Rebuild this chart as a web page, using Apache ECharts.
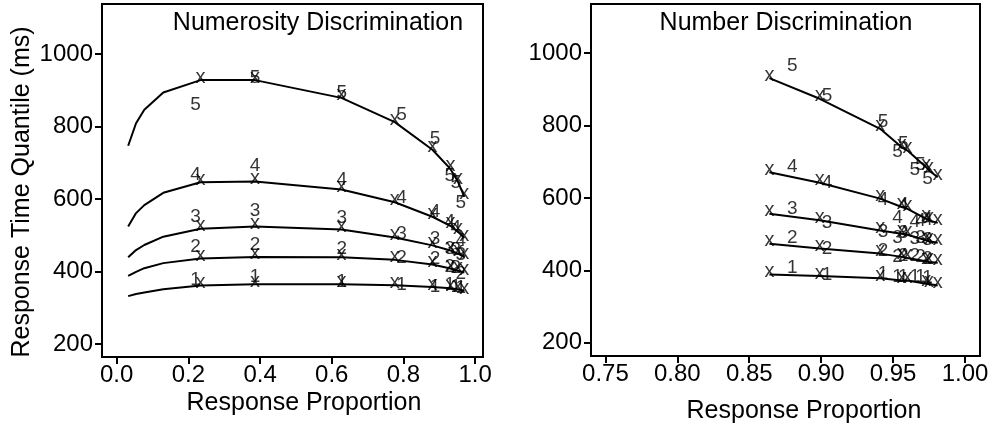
<!DOCTYPE html>
<html>
<head>
<meta charset="utf-8">
<script src="https://cdn.jsdelivr.net/npm/echarts@6/dist/echarts.min.js"></script>
<style>
  html, body { margin: 0; padding: 0; background: #fff; }
  #chart { width: 1000px; height: 425px; }
</style>
</head>
<body>
<div id="chart"></div>
<script>
// ---------- Data ----------
const yTicks = [200, 400, 600, 800, 1000];
const leftXTicks = [0.0, 0.2, 0.4, 0.6, 0.8, 1.0];
const rightXTicks = [0.75, 0.80, 0.85, 0.90, 0.95, 1.00];
const quantileLabels = ['1', '2', '3', '4', '5'];

// Left panel: Numerosity Discrimination
const leftLeadP = [0.032, 0.054, 0.077, 0.130];
const leftLeadQ1 = [332, 338, 342, 351];
const leftLeadQ2 = [388, 399, 409, 423];
const leftLeadQ3 = [439, 459, 473, 496];
const leftLeadQ4 = [524, 561, 583, 617];
const leftLeadQ5 = [747, 809, 846, 894];

const leftModelP = [0.234, 0.386, 0.627, 0.776, 0.881, 0.931, 0.952, 0.970];
const leftModelQ1 = [361, 365, 365, 362, 357, 354, 351, 346];
const leftModelQ2 = [436, 440, 439, 432, 419, 408, 402, 397];
const leftModelQ3 = [518, 524, 516, 494, 472, 458, 449, 440];
const leftModelQ4 = [646, 648, 626, 591, 551, 526, 510, 492];
const leftModelQ5 = [928, 928, 879, 812, 736, 683, 648, 606];

const leftDataP = [0.220, 0.386, 0.628, 0.795, 0.888, 0.929, 0.946, 0.960];
const leftDataQ1 = [377, 386, 372, 363, 358, 363, 358, 356];
const leftDataQ2 = [468, 473, 464, 439, 436, 413, 409, 395];
const leftDataQ3 = [551, 568, 547, 505, 490, 464, 459, 445];
const leftDataQ4 = [666, 691, 652, 602, 565, 537, 520, 484];
const leftDataQ5 = [859, 934, 892, 832, 767, 663, 644, 589];

// Right panel: Number Discrimination
const rightModelP = [0.864, 0.899, 0.941, 0.956, 0.960, 0.973, 0.975, 0.981];
const rightModelQ1 = [388, 384, 378, 372, 372, 363, 362, 358];
const rightModelQ2 = [473, 460, 446, 437, 434, 425, 423, 421];
const rightModelQ3 = [556, 538, 510, 501, 498, 483, 480, 476];
const rightModelQ4 = [671, 642, 598, 575, 570, 542, 538, 531];
const rightModelQ5 = [931, 874, 791, 740, 731, 685, 676, 657];

const rightDataP = [0.880, 0.904, 0.943, 0.957, 0.953, 0.965, 0.969, 0.974];
const rightDataQ1 = [408, 387, 390, 381, 383, 383, 381, 378];
const rightDataQ2 = [489, 459, 454, 440, 438, 440, 436, 433];
const rightDataQ3 = [569, 530, 507, 504, 489, 486, 489, 484];
const rightDataQ4 = [687, 641, 594, 580, 544, 535, 537, 539];
const rightDataQ5 = [965, 882, 811, 751, 728, 679, 691, 654];

// ---------- Chart ----------
const FONT = '"Liberation Sans", Arial, sans-serif';

function panelSeries(idx, leadP, leadQs, modelP, modelQs, dataP, dataQs) {
  const out = [];
  for (let q = 0; q < 5; q++) {
    const lineData = [];
    leadP.forEach((p, i) => lineData.push([p, leadQs[q][i]]));
    modelP.forEach((p, i) => lineData.push([p, modelQs[q][i]]));
    out.push({
      type: 'line', xAxisIndex: idx, yAxisIndex: idx, data: lineData,
      symbol: 'none', silent: true, animation: false,
      lineStyle: { color: '#000', width: 2 }
    });
    out.push({
      type: 'scatter', xAxisIndex: idx, yAxisIndex: idx,
      data: modelP.map((p, i) => [p, modelQs[q][i]]),
      symbolSize: 1, itemStyle: { color: 'rgba(0,0,0,0)' }, animation: false, silent: true,
      label: { show: true, formatter: 'x', position: 'inside', offset: [0, -3],
               color: '#000', fontSize: 20, fontFamily: FONT }
    });
    out.push({
      type: 'scatter', xAxisIndex: idx, yAxisIndex: idx,
      data: dataP.map((p, i) => [p, dataQs[q][i]]),
      symbolSize: 1, itemStyle: { color: 'rgba(0,0,0,0)' }, animation: false, silent: true,
      label: { show: true, formatter: quantileLabels[q], position: 'inside',
               color: '#000', fontSize: 19, fontFamily: FONT }
    });
  }
  return out;
}

function xAxisCfg(idx, min, max, ticks, dec) {
  return {
    type: 'value', gridIndex: idx, min: min, max: max,
    axisLine: { show: true, onZero: false, lineStyle: { color: '#000', width: 2 } },
    axisTick: { show: true, customValues: ticks, length: 7, inside: false,
                lineStyle: { color: '#000', width: 2 } },
    axisLabel: { show: true, customValues: ticks, margin: 6, color: '#000', fontSize: 24,
                 fontFamily: FONT, formatter: v => v.toFixed(dec) },
    splitLine: { show: false }
  };
}
function yAxisCfg(idx, min, max) {
  return {
    type: 'value', gridIndex: idx, min: min, max: max,
    axisLine: { show: true, onZero: false, lineStyle: { color: '#000', width: 2 } },
    axisTick: { show: true, customValues: yTicks, length: 7, inside: false,
                lineStyle: { color: '#000', width: 2 } },
    axisLabel: { show: true, customValues: yTicks, margin: 9, color: '#000', fontSize: 24,
                 fontFamily: FONT, formatter: v => String(Math.round(v)) },
    splitLine: { show: false }
  };
}

const chart = echarts.init(document.getElementById('chart'), null, { renderer: 'canvas' });
const option = {
  backgroundColor: '#fff',
  animation: false,
  grid: [
    { left: 102, top: 4, width: 381, height: 353, show: true, borderColor: '#000', borderWidth: 2,
      backgroundColor: 'transparent', containLabel: false, outerBoundsMode: 'none' },
    { left: 591, top: 4, width: 389, height: 352, show: true, borderColor: '#000', borderWidth: 2,
      backgroundColor: 'transparent', containLabel: false, outerBoundsMode: 'none' }
  ],
  xAxis: [
    xAxisCfg(0, -0.041, 1.022, leftXTicks, 1),
    xAxisCfg(1, 0.740, 1.0104, rightXTicks, 2)
  ],
  yAxis: [
    yAxisCfg(0, 164, 1138),
    yAxisCfg(1, 163, 1136)
  ],
  series: [].concat(
    panelSeries(0, leftLeadP,
      [leftLeadQ1, leftLeadQ2, leftLeadQ3, leftLeadQ4, leftLeadQ5],
      leftModelP,
      [leftModelQ1, leftModelQ2, leftModelQ3, leftModelQ4, leftModelQ5],
      leftDataP,
      [leftDataQ1, leftDataQ2, leftDataQ3, leftDataQ4, leftDataQ5]),
    panelSeries(1, [], [[], [], [], [], []],
      rightModelP,
      [rightModelQ1, rightModelQ2, rightModelQ3, rightModelQ4, rightModelQ5],
      rightDataP,
      [rightDataQ1, rightDataQ2, rightDataQ3, rightDataQ4, rightDataQ5])
  ),
  graphic: [
    { type: 'text', x: 318, y: 23, silent: true,
      style: { text: 'Numerosity Discrimination', fill: '#000', font: '25px ' + FONT,
               align: 'center', verticalAlign: 'middle' } },
    { type: 'text', x: 786, y: 23, silent: true,
      style: { text: 'Number Discrimination', fill: '#000', font: '25px ' + FONT,
               align: 'center', verticalAlign: 'middle' } },
    { type: 'text', x: 304, y: 403, silent: true,
      style: { text: 'Response Proportion', fill: '#000', font: '25px ' + FONT,
               align: 'center', verticalAlign: 'middle' } },
    { type: 'text', x: 804, y: 411, silent: true,
      style: { text: 'Response Proportion', fill: '#000', font: '25px ' + FONT,
               align: 'center', verticalAlign: 'middle' } },
    { type: 'text', x: 22, y: 192, rotation: Math.PI / 2, silent: true,
      style: { text: 'Response Time Quantile (ms)', fill: '#000', font: '25px ' + FONT,
               align: 'center', verticalAlign: 'middle' } }
  ]
};
chart.setOption(option);
</script>
</body>
</html>
